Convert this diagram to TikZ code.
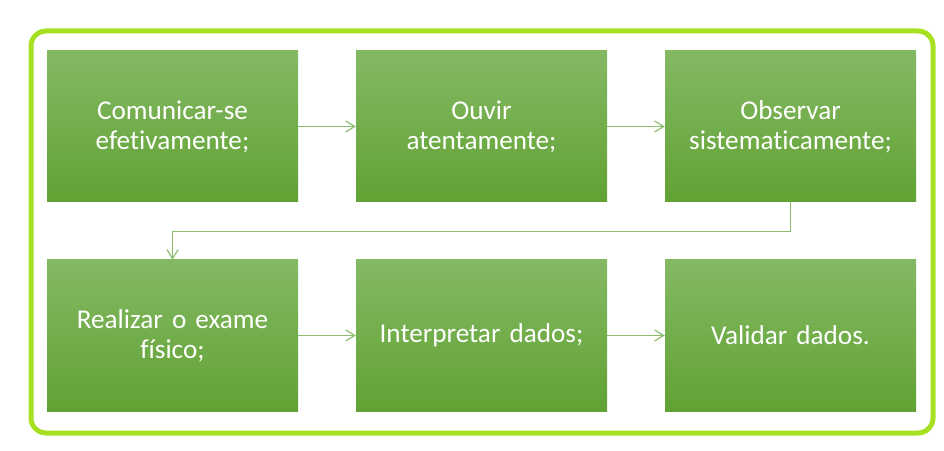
\documentclass[tikz,border=0pt]{standalone}
\usepackage{fontspec}
\setmainfont[Ligatures={NoCommon,NoRare}]{Carlito}
\usetikzlibrary{arrows.meta}
\definecolor{framegreen}{HTML}{A6E021}
\definecolor{boxtop}{HTML}{84B964}
\definecolor{boxbot}{HTML}{61A233}
\definecolor{linkgreen}{HTML}{8CBF6D}
\tikzset{
  stepbox/.style={rectangle, minimum width=251pt, minimum height=151pt, inner sep=0pt,
    top color=boxtop, bottom color=boxbot, draw=none, text=white, align=center,
    text width=240pt, font=\fontsize{27.2}{30}\selectfont},
  link/.style={draw=linkgreen, line width=1.2pt, -{Straight Barb[length=9pt,width=11pt]}}
}
\begin{document}
\begin{tikzpicture}[x=1pt,y=1pt]
\useasboundingbox (0,0) rectangle (944,450);
\draw[framegreen, line width=5pt, rounded corners=15pt] (31,17) rectangle (933,419);
\node[stepbox] (a) at (172.5,323.5) {Comunicar-se\\efetivamente;};
\node[stepbox] (b) at (481.5,323.5) {Ouvir\\atentamente;};
\node[stepbox] (c) at (790.5,323.5) {Observar\\sistematicamente;};
\node[stepbox] (d) at (172.5,114.5) {Realizar o exame\\físico;};
\node[stepbox] (e) at (481.5,114.5) {Interpretar dados;};
\node[stepbox] (f) at (790.5,114.5) {Validar dados.};
\draw[link] (a.east) -- (b.west);
\draw[link] (b.east) -- (c.west);
\draw[link] (c.south) -- ++(0,-29) -| (d.north);
\draw[link] (d.east) -- (e.west);
\draw[link] (e.east) -- (f.west);
\end{tikzpicture}
\end{document}
